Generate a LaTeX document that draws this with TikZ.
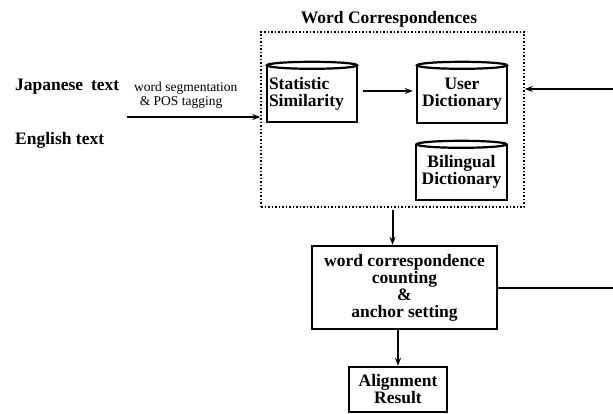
\documentclass[tikz,border=0pt]{standalone}
\usepackage{fontspec}
\setmainfont{Liberation Serif}
\usetikzlibrary{arrows.meta,calc}
\newcommand\drawcyl[1]{%
  \draw[cylline] (#1.north west) -- (#1.south west) -- (#1.south east) -- (#1.north east);
  \draw[cylline] (#1.north) ellipse [x radius=45pt, y radius=3.5pt];}
\begin{document}
\begin{tikzpicture}[x=1pt,y=-1pt,
  bigtxt/.style={font=\fontsize{17.5}{17}\selectfont\bfseries},
  smalltxt/.style={font=\fontsize{13.5}{14}\selectfont},
  dbstore/.style={bigtxt, text width=86pt, inner sep=2pt},
  cylline/.style={line width=2.2pt},
  procbox/.style={draw, line width=2.4pt, bigtxt, align=center, inner sep=0pt},
  framebox/.style={draw, dotted, line width=1.5pt, inner sep=0pt},
  arr/.style={-{Stealth[length=8pt,width=6pt]}, line width=2pt},
  plainline/.style={line width=2.2pt}]
\useasboundingbox (0,0) rectangle (613,414);

% texts on the left
\node[bigtxt, anchor=west, inner sep=0pt] (jp) at (15,87) {Japanese\hspace{0.45em}text};
\node[bigtxt, anchor=west, inner sep=0pt] (en) at (15,140) {English text};
\node[smalltxt, anchor=west, align=left, inner sep=0pt] (seg) at (134,95) {word segmentation\\\ \,\& POS tagging};

% word correspondences frame
\node[bigtxt, inner sep=0pt] (title) at (389,19) {Word Correspondences};
\node[framebox, minimum width=263pt, minimum height=175pt] (wc) at (392.5,119.5) {};

% databases
\node[dbstore, align=left, minimum height=56.5pt] (ss) at (312,93.75) {Statistic\\Similarity};
\node[dbstore, align=center, minimum height=57.5pt] (ud) at (462,94.25) {User\\Dictionary};
\node[dbstore, align=center, minimum height=55.5pt] (bd) at (461.5,172.25) {Bilingual\\Dictionary};
\drawcyl{ss}
\drawcyl{ud}
\drawcyl{bd}

% process boxes
\node[procbox, minimum width=185pt, minimum height=83pt] (wcc) at (404.5,287.5)
  {word correspondence\\counting\\\&\\anchor setting};
\node[procbox, minimum width=98pt, minimum height=45pt] (ar) at (398,389.5)
  {Alignment\\Result};

% connectors
\coordinate (inA) at (127,117);
\draw[arr] (inA) -- (inA -| wc.west);
\draw[arr, shorten <=6pt, shorten >=4pt] (ss.east |- 0,91) -- (ud.west |- 0,91);
\coordinate (rin) at (613,89);
\draw[arr] (rin) -- (rin -| wc.east);
\draw[arr, shorten <=2pt] (wc.south) -- (wc.south |- wcc.north);
\coordinate (rout) at (613,288);
\draw[plainline] (rout -| wcc.east) -- (rout);
\draw[arr] (ar.north |- wcc.south) -- (ar.north);
\end{tikzpicture}
\end{document}
